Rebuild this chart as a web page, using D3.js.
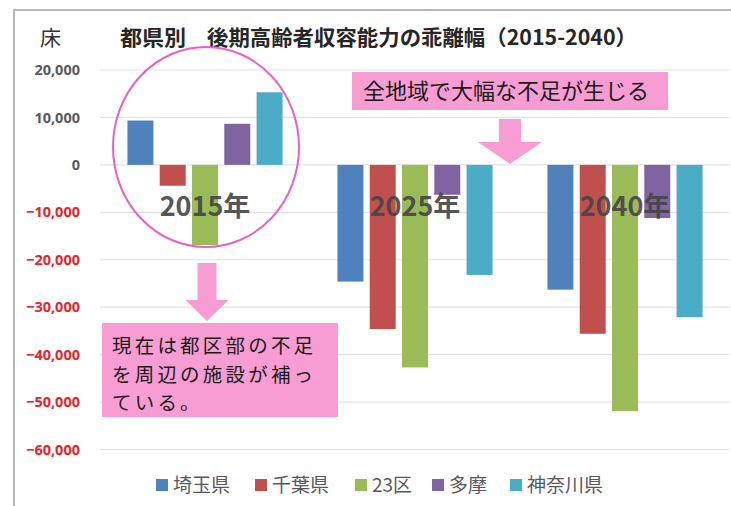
<!DOCTYPE html>
<html>
<head>
<meta charset="utf-8">
<script src="https://cdn.jsdelivr.net/npm/d3@7"></script>
<style>
	body { margin: 0; background: #fff; }
	svg { display: block; font-family: 'Noto Sans CJK JP', 'Noto Sans', sans-serif; }
</style>
</head>
<body>
<svg width="731" height="506"></svg>
<script>
// NOTE chart data
const years = ['2015年', '2025年', '2040年'];
const regions = ['埼玉県', '千葉県', '23区', '多摩', '神奈川県'];
const saitama = [9350, -24600, -26300];
const chiba = [-4400, -34600, -35600];
const ku23 = [-16900, -42700, -51900];
const tama = [8650, -6300, -11200];
const kanagawa = [15300, -23200, -32100];
const yTicks = [20000, 10000, 0, -10000, -20000, -30000, -40000, -50000, -60000];
const colors = ['#4f81bd', '#c0504d', '#9bbb59', '#8064a2', '#4bacc6'];

const series = [saitama, chiba, ku23, tama, kanagawa];

const svg = d3.select('svg');

// outer frame (top + left only)
svg.append('path')
	.attr('d', 'M14,506 L14,10 L731,10')
	.attr('fill', 'none')
	.attr('stroke', '#a0a0a0')
	.attr('stroke-width', 1.5);

const x0 = d3.scaleBand().domain(years).range([100, 730]);
const x1 = d3.scaleBand().domain(regions).range([0, x0.bandwidth()])
	.paddingInner(0.195).paddingOuter(0.85);
const y = d3.scaleLinear().domain([-60000, 20000]).range([449.5, 70]);

// gridlines
svg.append('g')
	.selectAll('line')
	.data(yTicks)
	.enter()
	.append('line')
	.attr('x1', 100)
	.attr('x2', 730)
	.attr('y1', (d) => y(d))
	.attr('y2', (d) => y(d))
	.attr('stroke', '#e3e3e3')
	.attr('stroke-width', 1.2);

// y axis labels
const yAxis = svg.append('g')
	.attr('transform', 'translate(80,0)')
	.call(d3.axisLeft(y).tickValues(yTicks).tickFormat(d3.format(',')).tickSize(0).tickPadding(0));
yAxis.select('.domain').remove();
yAxis.selectAll('text')
	.attr('font-family', "'Noto Sans', sans-serif")
	.attr('font-weight', 'bold')
	.attr('font-size', 14.5)
	.attr('fill', (d) => (d < 0 ? '#e8242a' : '#595959'));

// bars
const groups = svg.append('g')
	.selectAll('g')
	.data(years)
	.enter()
	.append('g')
	.attr('transform', (d) => 'translate(' + x0(d) + ',0)');

groups.selectAll('rect')
	.data((d, i) => regions.map((r, j) => ({ region: r, value: series[j][i], c: colors[j] })))
	.enter()
	.append('rect')
	.attr('x', (d) => x1(d.region))
	.attr('width', x1.bandwidth())
	.attr('y', (d) => y(Math.max(0, d.value)))
	.attr('height', (d) => Math.abs(y(d.value) - y(0)))
	.attr('fill', (d) => d.c);

// year labels
svg.append('g')
	.selectAll('text')
	.data(years)
	.enter()
	.append('text')
	.attr('x', (d) => x0(d) + x0.bandwidth() / 2)
	.attr('y', 216)
	.attr('text-anchor', 'middle')
	.attr('font-size', 27)
	.attr('font-weight', 'bold')
	.attr('fill', '#454545')
	.attr('fill-opacity', 0.92)
	.text((d) => d);

// titles
svg.append('text')
	.attr('x', 40)
	.attr('y', 45)
	.attr('font-size', 21)
	.attr('fill', '#333')
	.text('床');

svg.append('text')
	.attr('x', 120)
	.attr('y', 45)
	.attr('font-size', 21)
	.attr('font-weight', 'bold')
	.attr('fill', '#262626')
	.attr('textLength', 66)
	.attr('lengthAdjust', 'spacingAndGlyphs')
	.text('都県別');

svg.append('text')
	.attr('x', 207)
	.attr('y', 45)
	.attr('font-size', 21)
	.attr('font-weight', 'bold')
	.attr('fill', '#262626')
	.attr('textLength', 430)
	.attr('lengthAdjust', 'spacingAndGlyphs')
	.text('後期高齢者収容能力の乖離幅（2015-2040）');

// pink circle around 2015
svg.append('ellipse')
	.attr('cx', 206)
	.attr('cy', 147)
	.attr('rx', 93)
	.attr('ry', 100)
	.attr('fill', 'none')
	.attr('stroke', '#e762c8')
	.attr('stroke-width', 2);

// arrows
const pink = '#f79dd3';
const arrow = (cx, top, shaftW, shaftBottom, headW, tip) =>
	'M' + (cx - shaftW / 2) + ',' + top +
	' L' + (cx + shaftW / 2) + ',' + top +
	' L' + (cx + shaftW / 2) + ',' + shaftBottom +
	' L' + (cx + headW / 2) + ',' + shaftBottom +
	' L' + cx + ',' + tip +
	' L' + (cx - headW / 2) + ',' + shaftBottom +
	' L' + (cx - shaftW / 2) + ',' + shaftBottom + ' Z';

svg.append('path').attr('d', arrow(510, 119, 22, 142, 64, 164)).attr('fill', pink);
svg.append('path').attr('d', arrow(207, 263, 19, 300, 43, 321)).attr('fill', pink);

// callout boxes
svg.append('rect')
	.attr('x', 352).attr('y', 72).attr('width', 316).attr('height', 38)
	.attr('fill', pink);
svg.append('text')
	.attr('x', 363).attr('y', 99)
	.attr('font-size', 22)
	.attr('fill', '#1a1a1a')
	.text('全地域で大幅な不足が生じる');

svg.append('rect')
	.attr('x', 102).attr('y', 323).attr('width', 236).attr('height', 94)
	.attr('fill', pink);
const lines = ['現在は都区部の不足', 'を周辺の施設が補っ', 'ている。'];
svg.append('g')
	.selectAll('text')
	.data(lines)
	.enter()
	.append('text')
	.attr('x', 112)
	.attr('y', (d, i) => 353 + i * 28.5)
	.attr('font-size', 19.5)
	.attr('letter-spacing', 3.2)
	.attr('fill', '#1a1a1a')
	.text((d) => d);

// legend
const legendX = [156, 255, 355, 432, 510];
const legend = svg.append('g')
	.selectAll('g')
	.data(regions)
	.enter()
	.append('g')
	.attr('transform', (d, i) => 'translate(' + legendX[i] + ',485)');
legend.append('rect')
	.attr('x', 0).attr('y', -6).attr('width', 12).attr('height', 12)
	.attr('fill', (d, i) => colors[i]);
legend.append('text')
	.attr('x', 17)
	.attr('y', 7)
	.attr('font-size', 19)
	.attr('fill', '#595959')
	.text((d) => d);
</script>
</body>
</html>
